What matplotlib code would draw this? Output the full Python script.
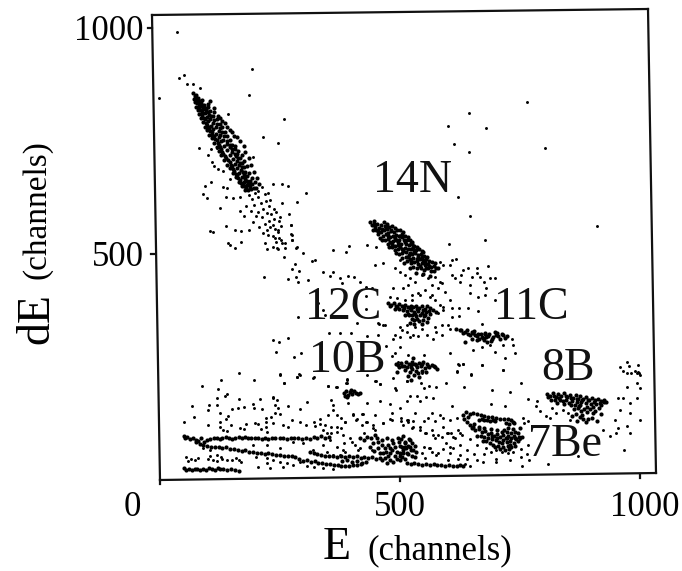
import numpy as np
import matplotlib
matplotlib.use("Agg")
import matplotlib.pyplot as plt
from matplotlib.lines import Line2D
from matplotlib.transforms import ScaledTranslation

plt.rcParams['font.family'] = ['Liberation Serif', 'DejaVu Serif']

# All points are (E, dE) in channels
n14_band = [(69,856),(72,850),(76,852),(70,844),(75,842),(80,846),(73,836),(78,834),(83,838),(88,840),(76,826),(81,826),(86,828),(92,830),(79,818),(84,818),(89,820),(95,822),(100,826),(82,810),(87,808),(93,812),(99,814),(104,816),(86,800),(91,800),(97,802),(106,806),(111,806),(90,792),(95,790),(101,794),(113,796),(118,798),(94,782),(100,782),(106,784),(118,788),(124,788),(98,774),(104,772),(111,776),(124,778),(129,780),(103,764),(109,764),(116,766),(130,770),(135,770),(108,756),(114,754),(122,758),(134,760),(140,762),(113,746),(120,746),(127,750),(140,750),(146,752),(118,736),(125,736),(133,740),(146,742),(151,742),(123,728),(130,726),(139,730),(151,732),(156,732),(128,718),(136,716),(146,720),(157,722),(161,722),(134,708),(142,708),(152,710),(162,712),(167,712),(140,698),(148,698),(157,700),(166,702),(171,702),(146,690),(153,688),(161,690),(170,692),(175,692),(152,680),(158,678),(165,680),(173,682),(178,682),(158,670),(163,668),(170,670),(177,672),(182,672),(164,660),(169,658),(175,660),(182,662),(187,662),(170,650),(175,650),(181,652),(187,654),(192,654),(178,642),(184,642),(190,644),(196,646),(201,646),
    (105,838),(112,822),(120,806),(130,795),(140,782),(150,770),(160,758),(167,750),(175,738),(178,725),(186,712),(190,698),(196,682),(203,668),(207,655),
    (74,846),(79,840),(82,832),(86,834),(90,826),(88,814),(96,818),(102,808),(93,798),(104,798),(110,790),(97,786),(103,778),(116,780),(108,770),(122,772),(113,760),(126,764),(118,752),(132,752),(122,742),(139,744),(128,732),(145,736),(131,722),(150,726),(138,712),(158,716),(145,704),(160,706),(150,694),(164,696),(155,684),(168,686),(160,674),(174,676),(166,664),(178,666),(172,655),(184,658),(180,646),(188,648),(156,738),(163,728),(170,718),(176,706),(182,694),(186,680),(192,668),(198,660),(135,790),(125,800),(112,815),(100,832),(145,775),(155,762)]
n14_sparse = [(192,909),(50,896),(40,889),(56,876),(69,876),(83,867),(-2,845),(185,852),(142,810),(258,799),(215,759),(246,746),(81,734),(106,732),(100,719),(119,734),(108,703),(112,695),(120,688),(131,684),(194,715),(94,650),(106,659),(131,648),(139,646),(146,666),(90,633),(98,624),(137,626),(125,602),(152,624),(167,626),(167,595),(137,562),(104,551),(110,549),(142,524),(146,520),(169,527),(156,513),(156,553),(169,551),(235,655),(254,655),(267,650),(304,635),(285,615),(254,613),(269,588),(250,582),(273,564),(273,544),(275,531),(285,515),(260,524),
    (205,640),(212,648),(198,636),(185,630),(192,622),(205,626),(218,632),(225,636),(210,612),(196,608),(220,618),(230,620),(215,600),(228,606),(238,600),(205,592),(222,590),(232,588),(242,594),(212,582),(228,574),(238,578),(248,572),(218,566),(230,560),(240,556),(246,548),(252,562),(236,540),(248,536),(225,542),(242,526),(252,530),(236,516),(246,512),(200,584),(190,596),(180,606),(176,584),(194,570),(206,560),(214,546),(185,552)]
stray = [(35,991),(765,836),(644,812),(600,783),(679,779),(613,743),(644,726),(802,735),(621,626),(910,562),
    (235,564),(223,553),(246,553),(240,535),(273,564),(275,542),(275,531),(219,524),(254,524),(260,513),(244,513),(223,511),(283,513),(298,502),(258,493),(360,509),(387,504),(394,518),(317,485),(323,487),(281,478),(275,467),(290,462),(340,460),(360,460),(354,451),(217,449),(267,445),(283,449),(288,438),(308,442),(375,447),(392,451),(404,449),(379,436),(417,438),(429,427),(442,425),(329,392),(288,360),(340,376),(344,365),(429,407),(429,378),(410,347),(454,347),(469,343),(352,325),(375,325),(398,325),(431,319),(454,321),(490,321),(235,310),(248,305),(267,314),(242,283),(279,272),(294,281),(471,296),(490,281),(496,261),(250,235),(258,215),(290,235),(285,228),(319,226),(390,223),(387,215),(350,208),(367,206),(448,219),(458,212),(431,232),(490,204),(235,181)]
small_spot = [(383,192),(388,196),(392,188),(396,194),(400,190),(404,196),(408,192),(412,190),(416,192),(390,184),(398,200),(386,186)]
upper_blob = [(438,570),(442,564),(446,572),(448,560),(452,566),(444,554),(450,552),(456,558),(460,564),(466,570),(472,566),(454,544),(460,548),(466,554),(472,556),(478,560),(484,562),(490,558),(458,536),(464,540),(470,544),(476,546),(482,550),(488,548),(494,552),(500,552),(506,548),(468,530),(474,534),(480,538),(486,540),(492,542),(498,540),(504,544),(510,540),(516,538),(474,522),(480,526),(486,528),(492,532),(498,530),(508,532),(514,530),(520,530),(526,526),(484,516),(490,518),(496,520),(502,522),(512,522),(518,520),(524,522),(530,518),(536,516),(490,508),(496,510),(504,512),(510,514),(516,510),(522,512),(528,510),(534,508),(540,510),(546,506),(498,500),(504,502),(512,504),(520,502),(526,500),(532,502),(538,498),(544,500),(550,496),(556,494),(504,492),(512,494),(520,490),(528,492),(536,488),(542,490),(548,486),(554,488),(560,484),(566,482),(514,484),(522,480),(530,482),(538,478),(546,480),(552,476),(558,478),(564,472),(570,474),(576,468),(528,472),(536,468),(544,470),(550,464),(558,468),(564,462),(570,462),(580,470),
    (445,566),(455,550),(463,556),(469,562),(481,554),(475,540),(489,535),(495,526),(505,537),(483,522),(500,515),(510,526),(522,525),(507,506),(518,498),(530,505),(537,494),(545,494),(523,484),(552,482),(560,474),(535,484),(541,474),(555,470),(572,480),(500,540),(528,516),(548,504),(516,494),(470,560),(462,530),(478,516),(492,502),(508,480),(520,470),(534,458),(548,455),(562,452)]
upper_tail = [(490,468),(500,461),(511,453),(521,446),(517,431),(531,439),(545,453),(559,446),(573,450),(583,439),(566,431),(580,424),(552,420),(538,413),(524,409),(507,424),(486,424),(563,405),(573,398),(594,416),(590,383),(604,398),(587,435),(500,486),(465,479),(448,475),(432,520),(450,516),(603,523),(646,584),(677,531),(608,486),(617,488),(583,483),(684,473),(590,475),(604,475),(632,464),(642,470),(660,468),(661,457),(608,453),(615,446),(628,453),(625,439),(649,450),(667,450),(674,439),(679,424),(688,446),(698,447),(646,431),(646,414),(663,405),(677,409),(698,399),(608,380),(622,381),(642,380),(663,374),(608,361),(622,363)]
c12_blob = [(476,392),(482,388),(488,392),(492,386),(498,390),(504,384),(510,388),(516,382),(522,386),(528,382),(534,386),(540,380),(546,384),(552,378),(556,384),(562,380),(568,376),(574,372),(490,378),(498,378),(506,376),(514,374),(522,376),(530,372),(538,374),(546,370),(554,372),(562,368),(510,366),(518,364),(526,366),(534,362),(542,364),(550,362),(558,358),(530,354),(540,352),(548,354),(524,356),
    (480,384),(494,382),(508,380),(520,380),(536,378),(548,376),(560,374),(516,368),(532,368),(552,366),(536,356),(545,346),(530,346),(520,348),(556,350)]
c12_sparse = [(479,405),(493,402),(511,398),(524,398),(542,409),(566,409),(583,387),(580,369),(590,376),(500,339),(514,343),(531,339),(545,335),(514,328),(528,321),(500,317),(556,321),(573,339),(587,343),(601,343),(576,328),(587,321),(604,335),(569,313),(538,318),(486,313),(521,317),(504,332),(465,343),(457,346)]
c11_band = [(617,335),(628,332),(635,328),(642,323),(649,328),(656,321),(663,324),(670,317),(677,323),(684,318),(691,313),(698,328),(705,318),(715,321),(722,318),(674,310),(681,306),(660,310),(649,313),(635,306),(625,331),(632,326),(640,332),(646,320),(652,326),(660,318),(668,324),(672,314),(680,316),(686,322),(694,316),(700,320),(708,312),(712,322),
    (655,330),(665,312),(678,326),(690,308),(703,326),(718,314)]
c11_sparse = [(653,287),(670,295),(698,284),(688,299),(715,299),(733,313),(736,298),(740,280),(719,269),(715,243),(670,254),(648,232),(604,280),(622,254),(632,257),(618,241),(670,346)]
b10_blob = [(492,256),(498,250),(503,258),(508,252),(513,262),(518,256),(522,250),(526,262),(528,270),(531,256),(536,250),(540,258),(544,252),(548,260),(552,248),(556,256),(560,250),(566,254),(572,250),(578,246),(510,244),(520,240),(534,242),(546,242),(530,232),(516,230),(540,228),(522,222),(494,240),(554,238),
    (495,254),(505,252),(515,250),(524,256),(534,254),(546,256),(558,252),(570,252),(525,246),(538,236)]
b10_sparse = [(483,275),(500,295),(517,276),(549,276),(486,225),(517,230),(545,236),(621,257),(632,257),(670,255),(618,240),(647,235),(714,244),(752,214),(691,200),(729,194),(633,205),(596,214),(576,205),(561,207),(549,203),(543,214),(514,218),(569,181),(554,183),(542,174),(535,185),(521,185),(515,174),(608,163),(689,169),(719,163),(767,179),(785,174),(783,163),(791,152),(805,141),(812,137),(826,148),(816,159),(840,155),(854,133),(850,148),(757,137),(767,130),(759,126),(955,181),(965,181),(979,170),(994,181),(958,154),(979,148),(1000,132),(948,132),(972,120),(955,115),(951,104),(979,104),(937,98),(923,111),(966,67),(871,54),(809,35)]
right_group = [(958,251),(964,242),(972,260),(977,253),(982,236),(972,236),(989,242),(994,236),(1000,233),(995,255),(1001,203),(994,214),(972,205),(995,238),(998,236)]
b8_blob = [(806,190),(812,186),(818,192),(824,184),(830,190),(836,186),(842,192),(848,184),(854,188),(860,182),(866,188),(870,180),(876,186),(882,180),(888,184),(894,176),(900,182),(906,176),(912,180),(918,174),(924,178),(930,172),(814,178),(822,176),(834,178),(846,176),(858,174),(868,172),(878,172),(888,170),(898,168),(908,168),(918,166),(828,170),(842,168),(856,166),(872,164),
    (809,184),(820,186),(832,182),(845,186),(857,182),(868,180),(880,176),(892,178),(904,172),(916,170),(926,172),(840,174),(852,170),(864,166),(876,166),(890,162),(902,162)]
b8_loop = [(862,156),(870,160),(878,152),(884,158),(890,150),(896,156),(902,148),(866,146),(874,140),(882,136),(892,134),(900,138),(906,152),(880,144),(914,160),(918,146),(858,142),(868,130),(888,128),(910,130)]
be7_blob = [(632,144),(638,150),(645,146),(652,148),(660,146),(668,144),(676,142),(684,140),(692,140),(700,138),(708,136),(716,136),(724,134),(732,132),(736,128),(664,132),(670,134),(676,132),(682,132),(688,130),(694,132),(698,130),(634,136),(640,128),(646,122),(652,118),(650,114),(656,110),(664,112),(670,106),(678,108),(684,102),(690,104),(696,98),(702,102),(708,96),(714,100),(720,94),(726,98),(732,92),(738,98),(742,90),(676,96),(684,92),(692,90),(700,88),(706,84),(714,88),(722,84),(730,86),(738,82),(746,86),(694,78),(704,76),(714,74),(724,76),(732,72),(740,76),(672,86),(660,98),(716,110),(726,114),(736,112),(746,104),(750,116),(738,126),(754,96),
    (655,124),(665,118),(676,114),(690,112),(702,110),(712,106),(722,106),(732,104),(740,106),(668,98),(680,86),(692,98),(702,94),(712,82),(722,92),(730,78),(740,92),(748,96),(708,68),(718,66),(728,68),(688,82),(698,72),(642,140),(720,126),(728,124)]
be7_sparse = [(680,70),(690,62),(700,66),(676,58),(712,62),(724,60),(736,62),(752,68),(660,78),(646,90),(630,100),(620,110),(610,96),(600,104),(590,118),(580,100),(566,110),(625,78),(610,70),(595,82),(640,66),(655,58),(625,55),(640,46),(660,44),(672,40),(700,46),(730,44),(752,50),(764,58),(768,44),(750,90),(767,78),(754,30),(700,40),(645,30),(635,36),
    (503,130),(517,133),(531,148),(528,130),(549,130),(559,137),(566,148),(573,130),(583,144),(590,137),(604,133),(618,137),(507,122),(524,115),(542,111),(552,105),(569,100),(587,96),(597,104),(615,93),(625,104),(560,70),(575,56),(590,68),(605,60),(620,46),(545,60),(553,48),(600,44)]
low_knot = [(502,90),(510,84),(518,90),(526,82),(532,76),(504,74),(512,70),(520,74),(528,66),(534,62),(506,60),(516,58),(524,54),(532,50),(500,52),(510,46),(417,92),(431,96),(448,100),(455,85),(462,78),(469,70),(479,70),(490,74),(500,75),(510,81),(521,89),(465,59),(479,59),(493,63),(469,48),(479,44),(490,52),(500,44),(462,44),(472,37),(472,92),(483,89),(496,92),(507,98),(444,81),(455,70),(500,59),(507,67),
    (440,92),(452,94),(462,88),(476,78),(486,82),(498,84),(510,74),(470,62),(484,66),(474,52),(486,40),(494,46),(505,50),(514,60),(522,66),(516,76),(426,88),(438,74),(446,64),(458,60)]
low_line = [(514,38),(522,36),(530,38),(538,36),(546,34),(554,36),(562,34),(570,36),(578,34),(586,34),(594,32),(602,34),(610,32),(618,32),(626,34),(632,32),(378,52),(386,50),(394,54),(402,50),(410,52),(418,48),(426,50),(434,48),(442,50),(450,46),(458,48),(380,42),(390,44),(400,40),(410,42),(420,38),(430,40)]
band_93 = [(49,97),(53,92),(57,95),(62,90),(68,92),(74,89),(80,86),(85,92),(92,84),(98,88),(105,90),(112,94),(118,92),(124,90),(130,92),(137,95),(143,93),(150,91),(156,94),(164,96),(171,92),(178,95),(184,92),(190,94),(197,92),(204,92),(212,91),(218,93),(226,91),(234,93),(240,94),(250,92),(256,94),(264,90),(272,92),(280,93),(288,92),(296,90),(304,92),(312,90),(320,96),(328,92),(336,98),(344,94),(352,96)]
band_falling = [(76,84),(84,80),(90,78),(98,76),(106,74),(114,72),(122,74),(130,70),(138,72),(146,68),(154,68),(162,66),(170,64),(178,66),(186,62),(194,62),(202,60),(210,60),(218,58),(226,60),(234,58),(242,56),(250,56),(258,54),(266,54),(274,52),(282,50),(290,46),(298,42),(306,44),(314,40),(322,42),(330,38),(338,38),(346,36),(354,36),(362,34),(370,34),(378,32),(386,32),(394,32),(402,34),(410,34),(418,36),(312,62),(320,60),(328,58),(336,56),(344,54),(352,54),(360,52),(368,50)]
band_44 = [(55,50),(58,42),(64,46),(72,44),(80,48),(100,46),(110,44),(118,42),(130,46),(140,44),(150,44),(158,48),(164,44),(168,40)]
band_24 = [(49,26),(54,22),(60,24),(66,22),(72,24),(78,24),(84,22),(90,24),(96,22),(102,26),(108,24),(114,22),(120,26),(126,24),(132,24),(140,22),(148,24),(156,22),(164,20)]
low_sparse = [(403,144),(422,146),(448,144),(483,148),(503,137),(385,129),(410,134),(431,129),(465,126),(483,133),(517,129),(528,118),(420,122),(444,122),(448,111),(542,118),(424,103),(382,100),(396,92),(383,81),(406,78),(417,70),(441,67),(385,63),(549,74),(562,70),(580,59),(566,63),(604,74),(607,103),(573,92),(555,103),
    (201,51),(222,48),(229,26),(257,28),(205,29),(222,38),(236,44),(250,40),(264,38),(278,34),(292,40),(306,30),(320,28),(340,26),(360,24),
    (87,208),(128,222),(121,202),(139,191),(135,186),(118,182),(66,164),(103,167),(118,167),(101,155),(124,149),(165,180),(151,158),(163,160),(174,162),(194,168),(196,160),(208,180),(212,158),(236,183),(243,178),(239,167),(246,160),(267,164),(291,158),(307,173),(357,177),(361,167),(49,129),(71,140),(99,121),(124,129),(125,118),(132,110),(139,108),(137,136),(141,141),(147,121),(167,114),(174,112),(180,123),(198,127),(205,125),(210,112),(221,138),(221,129),(221,118),(223,107),(232,140),(235,127),(239,149),(250,147),(257,121),(267,118),(274,132),(291,129),(305,121),(321,129),(323,119),(333,136),(333,125),(344,121),(357,118),(368,118),(378,114),(340,110),(347,103),(357,103),(368,107),(361,155),(350,144),(368,144),(378,138),(385,129),(403,146),(421,147),(409,132),(430,129),(444,114),(464,127),(479,136),(392,171),(432,171),(458,174),(479,169),(500,160),(514,132),(349,208),(368,206),(389,222),(389,215),(450,219),(458,212),(491,200),(514,219),(196,221),(258,215),(250,232),(164,237),(291,232),(285,228),(321,227),
    (104,66),(118,55),(128,50),(90,70),(104,53),(194,77),(222,77),(250,70),(278,85),(298,81),(319,66),(340,77),(354,88),(368,73),(382,66),(399,85),(413,66),(347,62),(361,55),(375,55)]

dense_groups = [n14_band, upper_blob, c12_blob, c11_band, b10_blob, b8_blob, b8_loop, be7_blob, low_knot, low_line, band_93, band_falling, band_24, small_spot]
sparse_groups = [n14_sparse, stray, upper_tail, c12_sparse, c11_sparse, b10_sparse, right_group, be7_sparse, band_44, low_sparse]

tick_vals = [0, 500, 1000]
isotopes = ["14N", "12C", "10B", "11C", "8B", "7Be"]
iso_E = [527, 381, 390, 773, 850, 844]
iso_dE = [661, 380, 263, 380, 247, 77]

W, H = 682, 571
fig = plt.figure(figsize=(W/100, H/100), dpi=100)
ax = fig.add_axes([152/W, 1-480/H, (656-152)/W, (480-9)/H])
ax.set_xlim((152-160)/0.48, (656-160)/0.48)
ax.set_ylim(0, (480-9)/0.452)
ax.patch.set_visible(False)
for s in ax.spines.values():
    s.set_visible(False)

for grp in dense_groups:
    pts = np.array(grp)
    ax.scatter(pts[:,0], pts[:,1], s=9, color='black', linewidths=0)
for grp in sparse_groups:
    pts = np.array(grp)
    ax.scatter(pts[:,0], pts[:,1], s=4.5, color='black', linewidths=0)

for name, e, de in zip(isotopes, iso_E, iso_dE):
    ax.text(e, de, name, fontsize=33, ha='center', va='center', color='#111111')

ax.set_xticks(tick_vals)
ax.set_xticklabels([str(v) for v in tick_vals], fontsize=25)
ax.set_yticks([500, 1000])
ax.set_yticklabels(['500', '1000'], fontsize=25)
ax.tick_params(axis='x', length=0, pad=8)
ax.tick_params(axis='y', length=0, pad=6)
labs = ax.get_xticklabels()
labs[0].set_transform(labs[0].get_transform() + ScaledTranslation(-28/100, 0, fig.dpi_scale_trans))
labs[2].set_transform(labs[2].get_transform() + ScaledTranslation(5/100, 0, fig.dpi_scale_trans))

# the scan is slightly rotated, so the frame is drawn in pixels
def px_line(x0, y0, x1, y1, lw=1.6):
    fig.add_artist(Line2D([x0/W, x1/W], [1-y0/H, 1-y1/H], color='#111111', lw=lw, solid_capstyle='projecting'))

px_line(152, 15, 160, 480)
px_line(160, 480, 656, 473)
px_line(656, 473, 648, 9)
px_line(152, 15, 648, 9)
px_line(160, 480, 160, 484)
px_line(400, 477, 400, 481)
px_line(640, 474, 640, 478)
px_line(148, 28, 152, 28)
px_line(151, 254, 155, 254)

fig.text(337/W, 1-559/H, 'E', fontsize=33, ha='center', va='baseline')
fig.text(440/W, 1-559/H, '(channels)', fontsize=25, ha='center', va='baseline')
fig.text(37/W, 1-318/H, 'dE', fontsize=33, rotation=90, ha='center', va='center')
fig.text(37/W, 1-210/H, '(channels)', fontsize=24, rotation=90, ha='center', va='center')

fig.savefig('out.png', dpi=100)
